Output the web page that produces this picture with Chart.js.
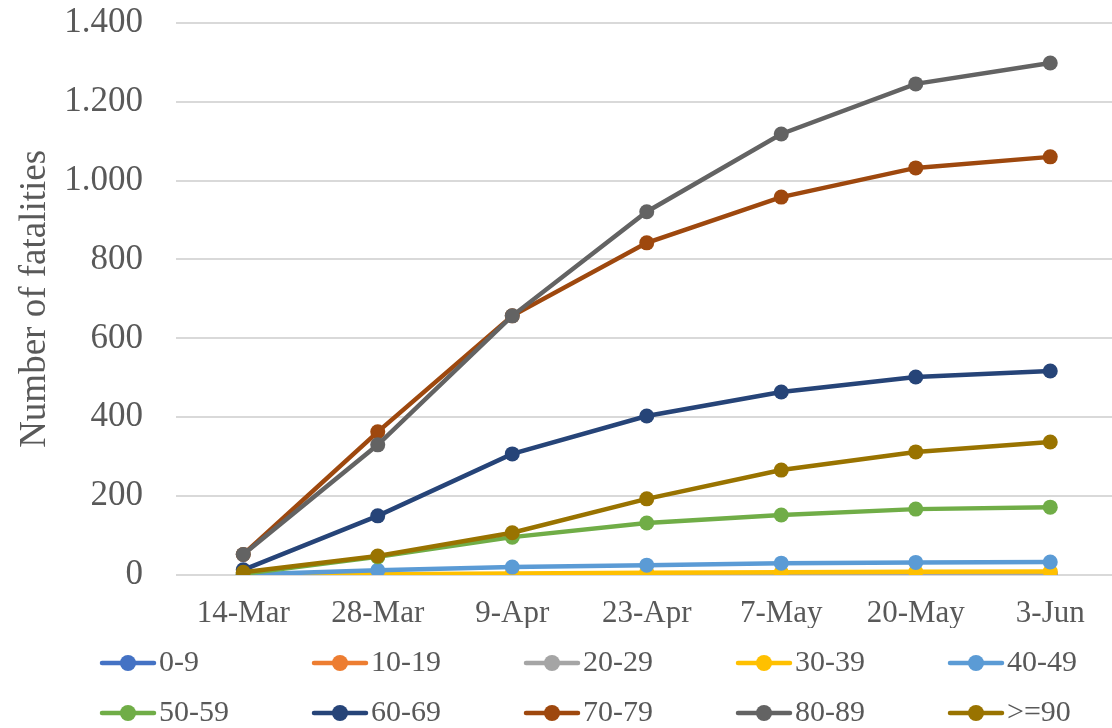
<!DOCTYPE html>
<html>
<head>
<meta charset="utf-8">
<script src="https://cdn.jsdelivr.net/npm/chart.js@4.4.1/dist/chart.umd.min.js"></script>
<style>
  html, body { margin: 0; padding: 0; background: #fff; overflow: hidden; }
  /* plot runs a little past the right edge, as in the original */
  #wrap { width: 1125px; height: 728px; position: relative; }
</style>
</head>
<body>
<div id="wrap"><canvas id="myChart"></canvas></div>
<script>
'use strict';

// Dates on the x axis
const dates = ['14-Mar', '28-Mar', '9-Apr', '23-Apr', '7-May', '20-May', '3-Jun'];

// Age groups (series names)
const ageGroups = ['0-9', '10-19', '20-29', '30-39', '40-49', '50-59', '60-69', '70-79', '80-89', '>=90'];

// Cumulative fatalities per age group
const age0to9 = [0, 0, 0, 0, 0, 0, 0];
const age10to19 = [0, 0, 0, 1, 1, 1, 1];
const age20to29 = [0, 0, 1, 2, 2, 2, 3];
const age30to39 = [0, 2, 4, 6, 7, 8, 9];
const age40to49 = [1, 12, 20, 25, 30, 32, 33];
const age50to59 = [3, 46, 96, 132, 152, 167, 172];
const age60to69 = [13, 150, 307, 403, 464, 502, 517];
const age70to79 = [52, 363, 657, 842, 958, 1032, 1060];
const age80to89 = [52, 330, 657, 921, 1118, 1245, 1298];
const age90plus = [7, 48, 107, 193, 266, 312, 337];

const yTicks = [0, 200, 400, 600, 800, 1000, 1200, 1400];

const seriesData = [age0to9, age10to19, age20to29, age30to39, age40to49,
  age50to59, age60to69, age70to79, age80to89, age90plus];

// Excel default palette
const colors = ['#4472C4', '#ED7D31', '#A5A5A5', '#FFC000', '#5B9BD5',
  '#70AD47', '#264478', '#9E480E', '#636363', '#997300'];

const textColor = '#595959';
const fontFamily = "'Liberation Serif', 'Times New Roman', serif";

// legend box width; the marker image is wider so it hangs into the text gap
const legendBox = 107;
const legendImgW = legendBox + 28;

// legend marker: line with a dot in the middle, sitting at the right of the image
function legendMarker(color){
  const c = document.createElement('canvas');
  c.width = legendImgW;
  c.height = 18;
  const g = c.getContext('2d');
  g.strokeStyle = color;
  g.lineWidth = 4.5;
  g.lineCap = 'round';
  g.beginPath();
  g.moveTo(legendImgW - 56, 9);
  g.lineTo(legendImgW - 4, 9);
  g.stroke();
  g.fillStyle = color;
  g.beginPath();
  g.arc(legendImgW - 30, 9, 8, 0, Math.PI * 2);
  g.fill();
  return c;
}

const datasets = [];
for (let i = 0; i < ageGroups.length; i++){
  datasets.push({
    label: ageGroups[i],
    data: seriesData[i],
    borderColor: colors[i],
    backgroundColor: colors[i],
    borderWidth: 4.5,
    pointRadius: 7.5,
    pointHoverRadius: 7.5,
    pointBorderWidth: 0,
    pointStyle: 'circle',
    tension: 0,
    // later series drawn on top, like Excel
    order: ageGroups.length - 1 - i,
    markerImg: legendMarker(colors[i])
  });
}

function formatThousands(v){
  return String(v).replace(/\B(?=(\d{3})+(?!\d))/g, '.');
}

const ctx = document.getElementById('myChart').getContext('2d');
const chart = new Chart(ctx, {
  type: 'line',
  data: {
    labels: dates,
    datasets: datasets
  },
  options: {
    responsive: true,
    maintainAspectRatio: false,
    animation: false,
    layout: {
      padding: { top: 0, right: 0, left: 17, bottom: -10 }
    },
    scales: {
      x: {
        offset: true,
        grid: { display: false, drawTicks: false },
        border: { display: false },
        afterFit: (axis) => {
          axis.height = 53;
        },
        ticks: {
          color: textColor,
          font: { family: fontFamily, size: 31 },
          padding: 20,
          maxRotation: 0,
          autoSkip: false
        }
      },
      y: {
        min: 0,
        max: 1400,
        afterBuildTicks: (axis) => {
          axis.ticks = yTicks.map(v => ({ value: v }));
        },
        afterFit: (axis) => {
          axis.width = 159;
        },
        // invisible tick marks give the gap between labels and plot
        grid: { color: '#d9d9d9', lineWidth: 2, drawTicks: true, tickLength: 33, tickColor: 'rgba(0,0,0,0)' },
        border: { display: false },
        ticks: {
          color: textColor,
          font: { family: fontFamily, size: 35, lineHeight: 1.3 },
          padding: 0,
          autoSkip: false,
          callback: (v) => formatThousands(v)
        },
        title: {
          display: true,
          text: 'Number of fatalities',
          color: textColor,
          font: { family: fontFamily, size: 37, weight: 'normal', lineHeight: 1 },
          padding: { top: 0, bottom: 0 }
        }
      }
    },
    plugins: {
      legend: {
        position: 'bottom',
        align: 'start',
        labels: {
          color: textColor,
          font: { family: fontFamily, size: 30 },
          usePointStyle: true,
          pointStyleWidth: legendBox,
          padding: 20,
          generateLabels: (ch) => ch.data.datasets.map((ds, i) => ({
            // em space keeps the short first label as wide as the others
            text: ds.label.length < 4 ? ds.label + '\u2003' : ds.label,
            fontColor: textColor,
            pointStyle: ds.markerImg,
            lineWidth: 0,
            strokeStyle: 'transparent',
            fillStyle: ds.borderColor,
            datasetIndex: i,
            hidden: false
          })),
          sort: (a, b) => a.datasetIndex - b.datasetIndex
        }
      },
      tooltip: { enabled: false }
    }
  }
});
</script>
</body>
</html>
